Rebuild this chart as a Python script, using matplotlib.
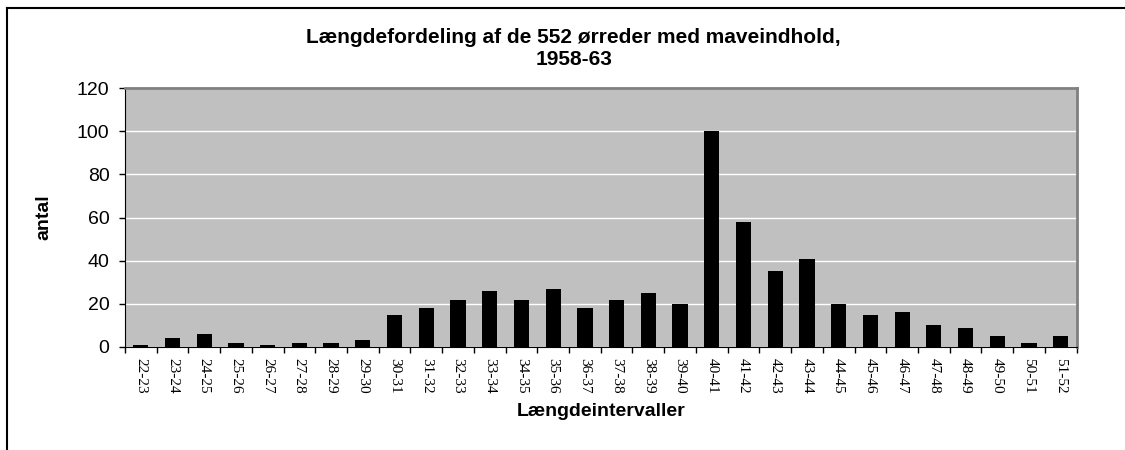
import matplotlib.pyplot as plt
from matplotlib.lines import Line2D

#Data
intervals = ['22-23', '23-24', '24-25', '25-26', '26-27', '27-28', '28-29', '29-30',
             '30-31', '31-32', '32-33', '33-34', '34-35', '35-36', '36-37', '37-38',
             '38-39', '39-40', '40-41', '41-42', '42-43', '43-44', '44-45', '45-46',
             '46-47', '47-48', '48-49', '49-50', '50-51', '51-52']
counts = [1, 4, 6, 2, 1, 2, 2, 3,
          15, 18, 22, 26, 22, 27, 18, 22,
          25, 20, 100, 58, 35, 41, 20, 15,
          16, 10, 9, 5, 2, 5]
yticks = [0, 20, 40, 60, 80, 100, 120]

fig = plt.figure(figsize=(11.25, 4.5), dpi=100)
ax = fig.add_axes([0.111, 0.229, 0.846, 0.575])
ax.set_facecolor('#c0c0c0')

x = list(range(len(intervals)))
ax.bar(x, counts, width=0.48, color='black', zorder=3)

#Grid and axes
ax.set_ylim(0, 120)
ax.set_xlim(-0.5, len(intervals) - 0.5)
ax.set_yticks(yticks)
ax.yaxis.grid(True, color='white', linewidth=1, zorder=1)
ax.set_axisbelow(True)

ax.set_xticks(x)
ax.set_xticklabels(intervals, rotation=270, fontsize=11, family='Liberation Serif')
ax.tick_params(axis='x', length=0, pad=8)
ax.set_xticks([i + 0.5 for i in range(-1, len(intervals))], minor=True)
ax.tick_params(axis='x', which='minor', length=4, width=1, direction='out')
ax.tick_params(axis='y', length=4, width=1, direction='out', labelsize=14, pad=7)
for lbl in ax.get_yticklabels():
    lbl.set_family('Liberation Sans')

for side in ['top', 'right']:
    ax.spines[side].set_color('#808080')
    ax.spines[side].set_linewidth(2)
ax.spines['left'].set_color('black')
ax.spines['bottom'].set_color('black')

#Labels
ax.set_xlabel('Længdeintervaller', fontsize=14, fontweight='bold', family='Liberation Sans', labelpad=7)
ax.set_ylabel('antal', fontsize=14, fontweight='bold', family='Liberation Sans', labelpad=18)
fig.text(0.51, 0.892, 'Længdefordeling af de 552 ørreder med maveindhold,\n1958-63',
         ha='center', va='center', fontsize=15, fontweight='bold', family='Liberation Sans',
         linespacing=1.2)

#Outer frame (top and left edges visible)
fig.add_artist(Line2D([0.006, 1.0], [0.982, 0.982], color='black', linewidth=1.5))
fig.add_artist(Line2D([0.006, 0.006], [0.0, 0.982], color='black', linewidth=1.5))

fig.savefig('out.png', dpi=100)
